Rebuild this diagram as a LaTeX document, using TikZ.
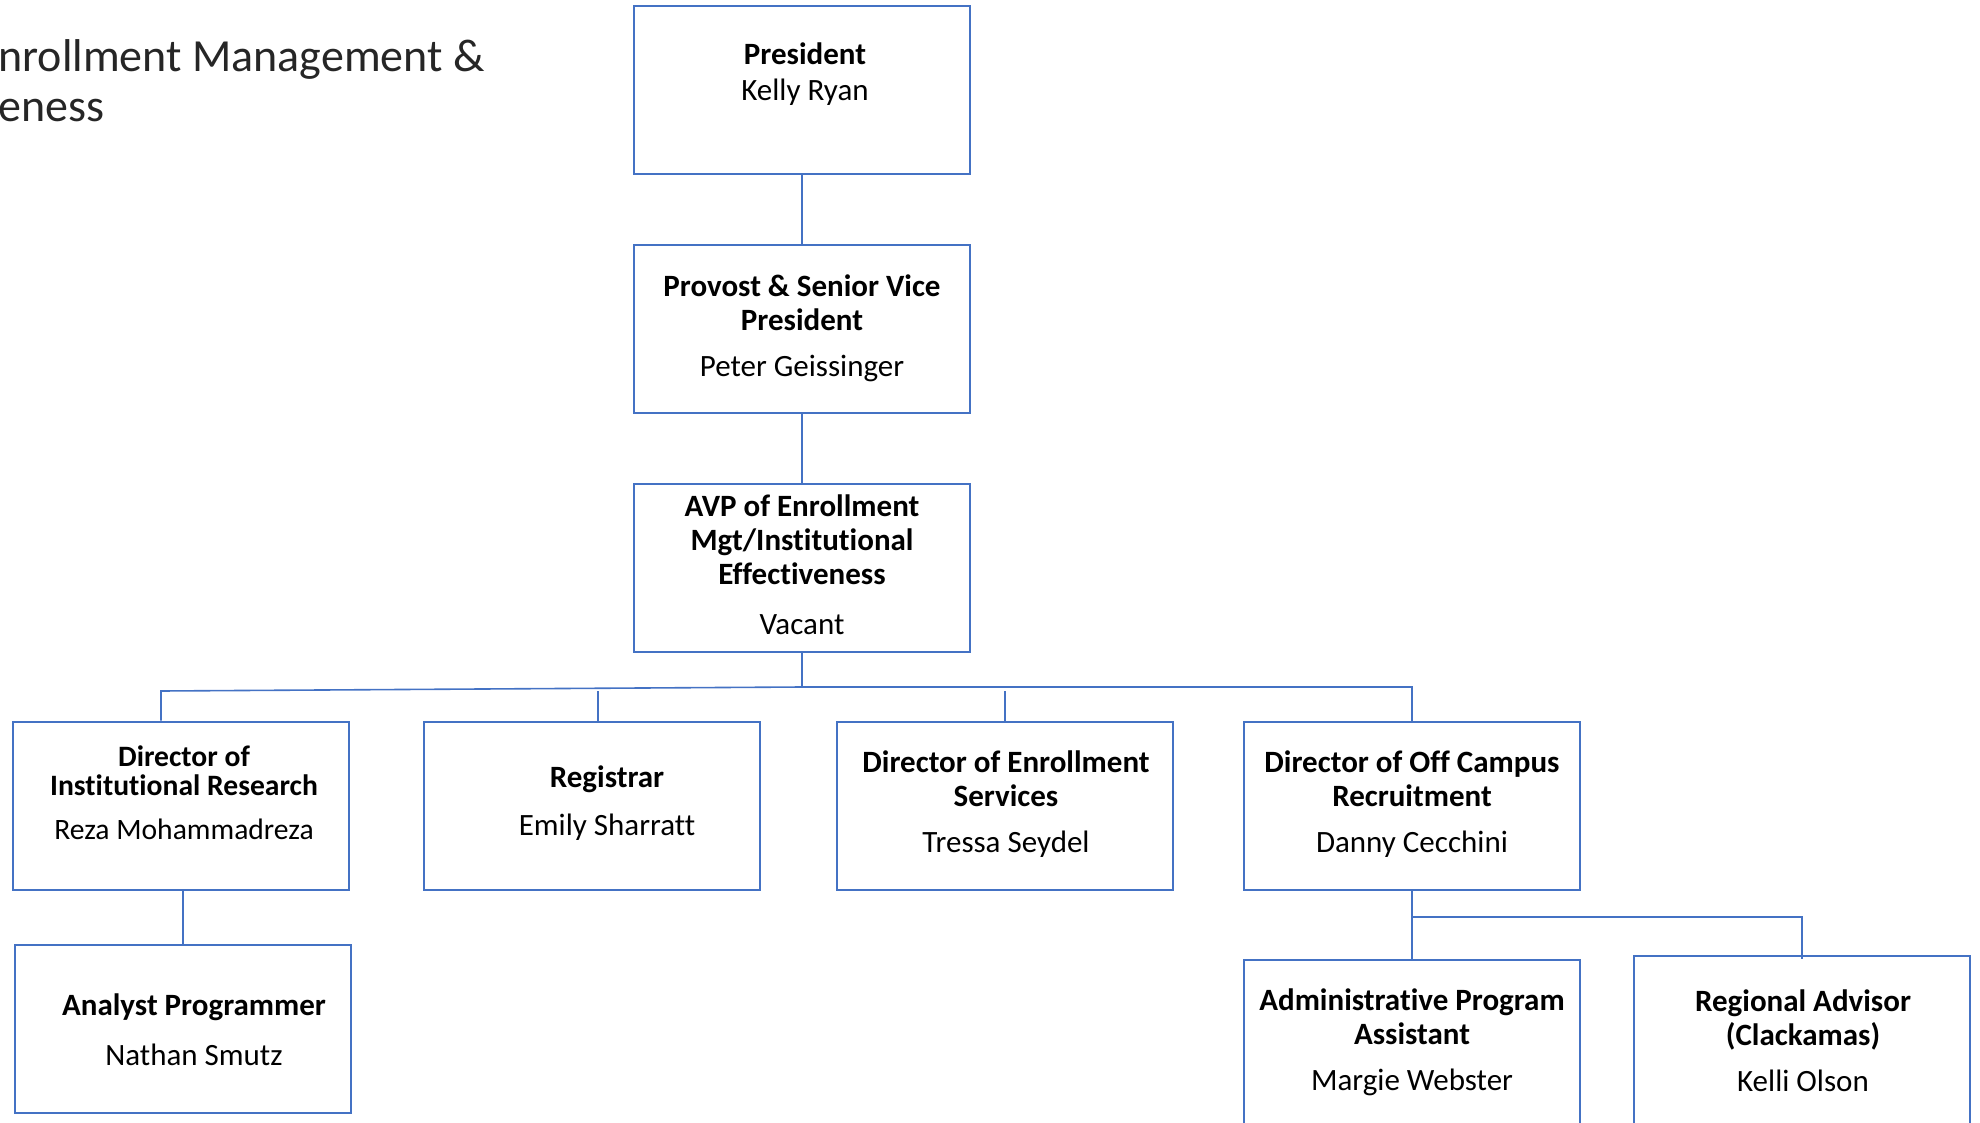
\documentclass[tikz,border=0pt]{standalone}
\usepackage{fontspec}
\setmainfont{Carlito}[Ligatures=NoCommon]
\definecolor{orgblue}{HTML}{4472C4}

\begin{document}
\begin{tikzpicture}[x=0.5pt,y=-0.5pt,
  box/.style={draw=orgblue,line width=1.35pt,minimum width=168pt,minimum height=84pt,inner sep=0pt},
  txt/.style={anchor=north,align=center,inner sep=0pt,font=\fontsize{15.5}{17}\selectfont,execute at begin node=\rule{0pt}{13pt}},
  heavy/.style={orgblue,line width=1.35pt},
  light/.style={orgblue,line width=0.8pt},
  ttl/.style={anchor=base west,inner sep=0pt,text=black!85,font=\fontsize{23}{28}\selectfont}]
\useasboundingbox (0,0) rectangle (1980,1123);
\clip (0,0) rectangle (1980,1123);

\node[ttl] (ttlA) at (-2,72) {nrollment Management \&};
\node[ttl] (ttlB) at (-2,122) {eness};

\node[box] (pres) at (802,90) {};
\node[box] (prov) at (802,329) {};
\node[box] (avp) at (802,568) {};
\node[box] (ir) at (181,806) {};
\node[box] (reg) at (592,806) {};
\node[box] (des) at (1005,806) {};
\node[box] (doc) at (1412,806) {};
\node[box] (an) at (183,1029) {};
\node[box] (adm) at (1412,1044) {};
\node[box] (rgn) at (1802,1040) {};

\node[txt] (presT) at (805,42) {\textbf{President}\\[1pt]Kelly Ryan};
\node[txt] (provT) at (802,274) {\textbf{Provost \& Senior Vice}\\\textbf{President}\\[6pt]Peter Geissinger};
\node[txt] (avpT) at (802,494) {\textbf{AVP of Enrollment}\\\textbf{Mgt/Institutional}\\\textbf{Effectiveness}\\[8pt]Vacant};
\node[txt,font=\fontsize{14.8}{14.5}\selectfont] (irT) at (184,745) {\textbf{Director of}\\\textbf{Institutional Research}\\[7.5pt]Reza Mohammadreza};
\node[txt] (regT) at (607,765) {\textbf{Registrar}\\[7pt]Emily Sharratt};
\node[txt] (desT) at (1006,750) {\textbf{Director of Enrollment}\\\textbf{Services}\\[6pt]Tressa Seydel};
\node[txt] (docT) at (1412,750) {\textbf{Director of Off Campus}\\\textbf{Recruitment}\\[6pt]Danny Cecchini};
\node[txt] (anT) at (194,993) {\textbf{Analyst Programmer}\\[8pt]Nathan Smutz};
\node[txt] (admT) at (1412,988) {\textbf{Administrative Program}\\\textbf{Assistant}\\[6pt]Margie Webster};
\node[txt] (rgnT) at (1803,989) {\textbf{Regional Advisor}\\\textbf{(Clackamas)}\\[6pt]Kelli Olson};

\coordinate (busIR) at (161,691);
\coordinate (busM) at (802,687);
\coordinate (busR) at (1412,687);
\coordinate (regTop) at (598,691);
\coordinate (desTop) at (1005,691);
\coordinate (brL) at (1412,917);

\draw[heavy] (pres) -- (prov);
\draw[heavy] (prov) -- (avp);
\draw[heavy] (avp) -- (busM) -- (busR) -- (doc);
\draw[light] (ir.north -| busIR) -- (busIR) -- (busM);
\draw[light] (regTop) -- (reg.north -| regTop);
\draw[light] (desTop) -- (des);
\draw[light] (an.north) -- (an.north |- ir.south);
\draw[heavy] (doc) -- (adm);
\draw[light] (brL) -| ([yshift=-2pt]rgn.north);

\end{tikzpicture}
\end{document}
